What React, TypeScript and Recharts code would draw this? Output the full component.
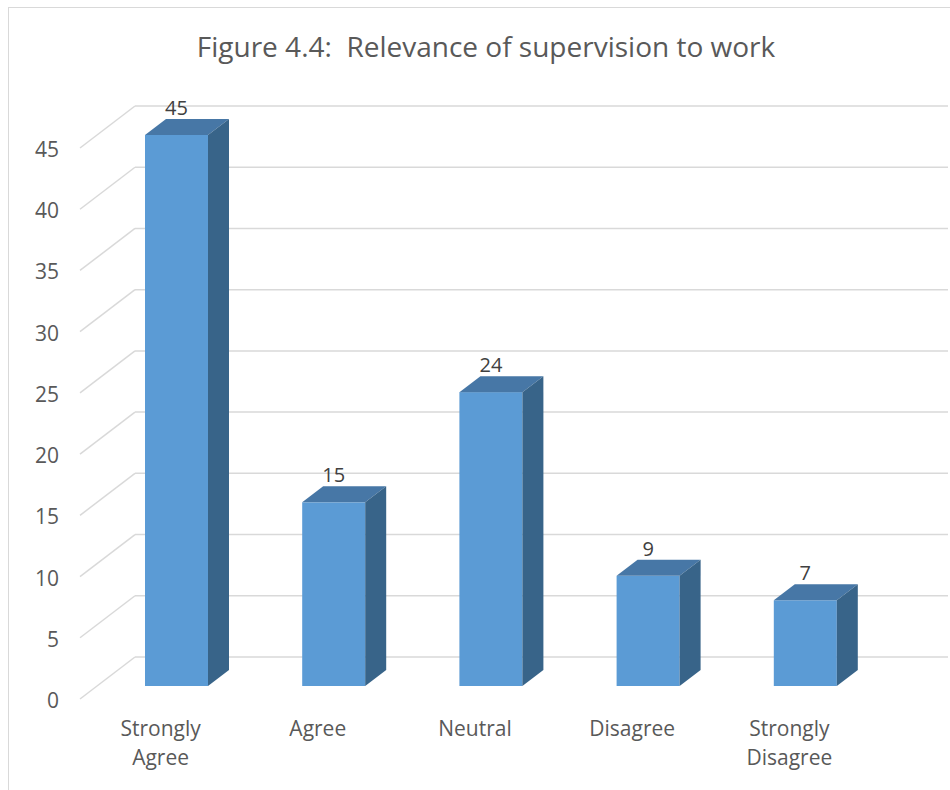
import React from 'react'
import { Bar, BarChart, CartesianGrid, LabelList, XAxis, YAxis } from 'recharts'

const categories = ['Strongly Agree', 'Agree', 'Neutral', 'Disagree', 'Strongly Disagree']
const responses = [45, 15, 24, 9, 7]
const yTicks = [0, 5, 10, 15, 20, 25, 30, 35, 40, 45]

const data = categories.map((label, i) => ({ label, value: responses[i] }))

// 3D look: depth offset of the bar box and of the floor/back wall
const DEPTH_X = 21
const DEPTH_Y = 16
const WALL_BACK_X = 37
const WALL_BACK_Y = 29
const WALL_FRONT_X = 18
const WALL_FRONT_Y = 13
const WALL_RIGHT = 948
const PLOT_BOTTOM = 686

const FONT = '"Open Sans", sans-serif'
const TEXT = '#595959'
const GRID = '#d9d9d9'

function GridLine(props: any) {
  const { x1, y1 } = props
  const bx = x1 + WALL_BACK_X
  const by = y1 - WALL_BACK_Y
  return (
    <g>
      <line x1={x1 - WALL_FRONT_X} y1={y1 + WALL_FRONT_Y} x2={bx} y2={by} stroke={GRID} strokeWidth={1.5} />
      <line x1={bx} y1={by} x2={WALL_RIGHT} y2={by} stroke={GRID} strokeWidth={1.5} />
    </g>
  )
}

function Box(props: any) {
  const { x, y, width, height } = props
  if (height <= 0) return null
  const r = x + width
  const b = y + height
  return (
    <g>
      <rect x={x} y={y} width={width} height={height} fill="#5b9bd5" />
      <polygon
        points={`${x},${y} ${x + DEPTH_X},${y - DEPTH_Y} ${r + DEPTH_X},${y - DEPTH_Y} ${r},${y}`}
        fill="#4777a6"
      />
      <polygon
        points={`${r},${y} ${r + DEPTH_X},${y - DEPTH_Y} ${r + DEPTH_X},${b - DEPTH_Y} ${r},${b}`}
        fill="#386489"
      />
    </g>
  )
}

function YTick(props: any) {
  const { y, payload } = props
  return (
    <text x={59} y={y + 22} textAnchor="end" fontFamily={FONT} fontSize={21} fill={TEXT}>
      {payload.value}
    </text>
  )
}

function XTick(props: any) {
  const { x, payload } = props
  const words = payload.value.startsWith('Strongly') ? payload.value.split(' ') : [payload.value]
  return (
    <text x={x - 16} y={PLOT_BOTTOM + 50} textAnchor="middle" fontFamily={FONT} fontSize={21} fill={TEXT}>
      {words.map((w: string, i: number) => (
        <tspan key={i} x={x - 16} y={PLOT_BOTTOM + 50 + i * 29}>
          {w}
        </tspan>
      ))}
    </text>
  )
}

function ValueLabel(props: any) {
  const { x, y, width, value } = props
  return (
    <text x={x + width / 2} y={y - 20} textAnchor="middle" fontFamily={FONT} fontSize={20} fill="#404040">
      {value}
    </text>
  )
}

export default function App() {
  return (
    <div style={{ position: 'absolute', left: 0, top: 0, width: 950, height: 790, overflow: 'hidden', background: '#fff' }}>
      <div
        style={{
          position: 'absolute',
          left: 8,
          top: 7,
          width: 1000,
          height: 1000,
          border: `1px solid ${GRID}`,
        }}
      />
      <div style={{ position: 'absolute', left: 0, top: 0 }}>
        <BarChart
          width={950}
          height={790}
          data={data}
          margin={{ top: 135, right: 66, bottom: 24, left: 38 }}
          barSize={63}
        >
          <text x={486} y={57} textAnchor="middle" fontFamily={FONT} fontSize={28} fill={TEXT} xmlSpace="preserve">
            {'Figure 4.4:\u00a0 Relevance of supervision to work'}
          </text>
          <CartesianGrid vertical={false} horizontal={(p: any) => <GridLine key={p.key} {...p} />} />
          <XAxis dataKey="label" height={80} axisLine={false} tickLine={false} tick={<XTick />} interval={0} />
          <YAxis
            width={60}
            domain={[0, 45]}
            ticks={yTicks}
            axisLine={false}
            tickLine={false}
            tick={<YTick />}
          />
          <Bar dataKey="value" shape={<Box />} isAnimationActive={false}>
            <LabelList dataKey="value" content={<ValueLabel />} />
          </Bar>
        </BarChart>
      </div>
    </div>
  )
}
